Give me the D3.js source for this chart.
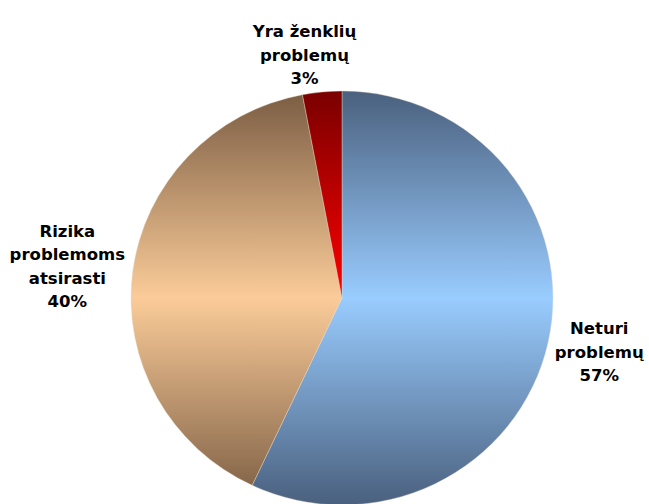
<!DOCTYPE html>
<html>
<head>
<meta charset="utf-8">
<script src="https://cdn.jsdelivr.net/npm/d3@7"></script>
<style>
  html, body { margin: 0; padding: 0; background: #ffffff; }
  svg { display: block; }
  .lbl { font-family: "DejaVu Sans", Verdana, sans-serif; font-weight: bold; font-size: 16.5px; fill: #000; }
</style>
</head>
<body>
<svg id="chart" width="649" height="504"></svg>
<script>
// Survey shares, drawn clockwise from 12 o'clock
const categories = ["Neturi problemų", "Rizika problemoms atsirasti", "Yra ženklių problemų"];
const values = [57, 40, 3];
const labelLines = [
  ["Neturi", "problemų"],
  ["Rizika", "problemoms", "atsirasti"],
  ["Yra ženklių", "problemų"]
];
// gradient ends: [edge colour, middle colour]
const sliceColors = [
  ["#4a607e", "#99ccff"],
  ["#7a5c42", "#fbcc99"],
  ["#7a0000", "#ff0000"]
];

const W = 649, H = 504;
const cx = 342, cy = 298, rx = 211, ry = 207;
// small sideways shift for labels crowded near the top
const labelShiftX = [0, 0, -12];

const svg = d3.select("#chart");
const defs = svg.append("defs");

// vertical two-tone gradient: dark at top and bottom, light across the middle
sliceColors.forEach((c, i) => {
  const g = defs.append("linearGradient")
    .attr("id", "grad" + i)
    .attr("gradientUnits", "userSpaceOnUse")
    .attr("x1", 0).attr("x2", 0)
    .attr("y1", -rx).attr("y2", rx);
  g.append("stop").attr("offset", 0).attr("stop-color", c[0]);
  g.append("stop").attr("offset", 0.5).attr("stop-color", c[1]);
  g.append("stop").attr("offset", 1).attr("stop-color", c[0]);
});

const pie = d3.pie().sort(null).value(d => d);
const arcs = pie(values);
const arc = d3.arc().innerRadius(0).outerRadius(rx);

const g = svg.append("g")
  .attr("transform", `translate(${cx},${cy}) scale(1,${ry / rx})`);

g.selectAll("path.slice")
  .data(arcs)
  .join("path")
  .attr("class", "slice")
  .attr("d", arc)
  .attr("fill", (d, i) => `url(#grad${i})`)
  .attr("stroke", "#e8dcc8")
  .attr("stroke-width", 0.4);

// outside-end data labels: category lines plus the percentage
const total = d3.sum(values);
const fmtPct = v => Math.round(v / total * 100) + "%";
const lineH = 23.3, capH = 12.5, gap = 8;

const labels = svg.append("g");
arcs.forEach((a, i) => {
  const lines = labelLines[i].concat([fmtPct(a.data)]);
  const mid = (a.startAngle + a.endAngle) / 2;
  const sx = Math.sin(mid), cyv = -Math.cos(mid);
  const ax = cx + sx * (rx + gap);
  const ay = cy + cyv * (ry + gap);

  const t = labels.append("text").attr("class", "lbl").attr("text-anchor", "middle");
  lines.forEach((s, k) => t.append("tspan").attr("x", 0).attr("y", k * lineH).text(s));

  const bb = t.node().getBBox();
  const blockH = (lines.length - 1) * lineH + capH;
  const centerX = ax + sx * bb.width / 2 + labelShiftX[i];
  const centerY = ay + cyv * blockH / 2;
  const firstBase = centerY - blockH / 2 + capH;
  t.attr("transform", `translate(${centerX},${firstBase})`);
});
</script>
</body>
</html>
